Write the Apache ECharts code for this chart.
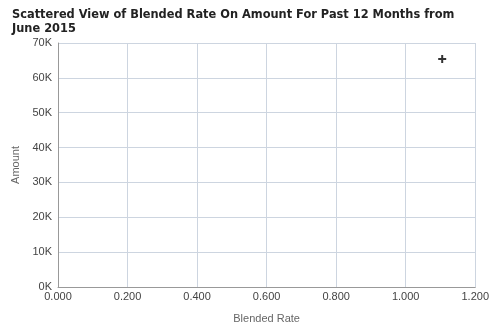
<!DOCTYPE html>
<html><head><meta charset="utf-8">
<script src="https://cdn.jsdelivr.net/npm/echarts@6/dist/echarts.min.js"></script>
<style>html,body{margin:0;padding:0;background:#fff}#c{width:492px;height:329px}</style>
</head><body><div id="c"></div>
<script>
const titleText = "Scattered View of Blended Rate On Amount For Past 12 Months from\nJune 2015";
const blendedRate = [1.105];
const amount = [65400];
const xTicks = [0, 0.2, 0.4, 0.6, 0.8, 1.0, 1.2];
const yTicks = [0, 10000, 20000, 30000, 40000, 50000, 60000, 70000];

const chart = echarts.init(document.getElementById('c'), null, {renderer: 'canvas'});
chart.setOption({
  animation: false,
  title: {
    text: titleText, left: 7, top: 3,
    textStyle: {fontFamily: 'DejaVu Sans', fontWeight: 'bold', fontSize: 11.4, color: '#222', lineHeight: 14}
  },
  grid: {left: 58, right: 16, top: 43, bottom: 42},
  xAxis: {
    type: 'value', min: xTicks[0], max: xTicks[xTicks.length-1], interval: 0.2,
    name: 'Blended Rate', nameLocation: 'middle', nameGap: 26,
    nameTextStyle: {fontFamily: 'Liberation Sans', fontSize: 11, color: '#666'},
    axisLine: {show: true, lineStyle: {color: '#999'}},
    axisTick: {show: false},
    axisLabel: {fontFamily: 'Liberation Sans', fontSize: 11, color: '#444', margin: 4, formatter: v => v.toFixed(3)},
    splitLine: {show: true, lineStyle: {color: '#cdd5e0'}}
  },
  yAxis: {
    type: 'value', min: yTicks[0], max: yTicks[yTicks.length-1], interval: 10000,
    name: 'Amount', nameLocation: 'middle', nameGap: 36,
    nameTextStyle: {fontFamily: 'Liberation Sans', fontSize: 11, color: '#666'},
    axisLine: {show: true, lineStyle: {color: '#999'}},
    axisTick: {show: false},
    axisLabel: {fontFamily: 'Liberation Sans', fontSize: 11, color: '#444', margin: 6, formatter: v => (v/1000) + 'K'},
    splitLine: {show: true, lineStyle: {color: '#cdd5e0'}}
  },
  series: [{
    type: 'scatter',
    data: blendedRate.map((x, i) => [x, amount[i]]),
    symbol: 'path://M3,0H5V3H8V5H5V8H3V5H0V3H3Z',
    symbolSize: 8,
    itemStyle: {color: '#000'}
  }]
});
</script>
</body></html>
